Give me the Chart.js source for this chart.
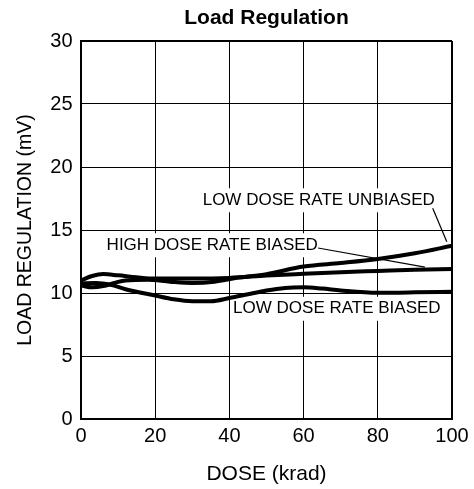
<!DOCTYPE html>
<html>
<head>
<meta charset="utf-8">
<script src="https://cdn.jsdelivr.net/npm/chart.js@4"></script>
<style>
  html, body { margin: 0; padding: 0; background: #fff; }
  #wrap { width: 474px; height: 489px; }
</style>
</head>
<body>
<div id="wrap"><canvas id="load-chart"></canvas></div>
<script>
const FONT = '"Liberation Sans", Arial, Helvetica, sans-serif';

// values (krad, mV)
const ldrUnbiasedDose = [0, 3, 6, 9, 12, 18, 24, 30, 36, 42, 50, 60, 70, 80, 90, 100];
const ldrUnbiasedLoad = [10.6, 10.45, 10.55, 10.8, 11.0, 11.05, 10.9, 10.8, 10.9, 11.2, 11.5, 12.1, 12.38, 12.7, 13.15, 13.75];

const hdrBiasedDose = [0, 3, 6, 10, 15, 20, 30, 40, 50, 60, 70, 80, 90, 100];
const hdrBiasedLoad = [11.0, 11.35, 11.5, 11.4, 11.25, 11.15, 11.15, 11.2, 11.38, 11.52, 11.65, 11.75, 11.85, 11.9];

const ldrBiasedDose = [0, 4, 8, 12, 20, 25, 30, 35, 40, 45, 50, 55, 60, 65, 70, 80, 90, 100];
const ldrBiasedLoad = [10.75, 10.8, 10.65, 10.3, 9.8, 9.5, 9.35, 9.35, 9.6, 9.9, 10.2, 10.4, 10.45, 10.35, 10.2, 10.02, 10.05, 10.1];

const xTicks = [0, 20, 40, 60, 80, 100];
const yTicks = [0, 5, 10, 15, 20, 25, 30];

// curve labels: text, where it sits (data units), leader line from / to
const curveLabels = [
  { text: 'LOW DOSE RATE UNBIASED', x: 32.8, y: 17.36, from: [94.8, 16.72], to: [98.6, 14.07] },
  { text: 'HIGH DOSE RATE BIASED', x: 6.9, y: 13.79, from: [63.9, 13.57], to: [92.7, 12.06] },
  { text: 'LOW DOSE RATE BIASED', x: 41.0, y: 8.75 }
];

function toPoints(xs, ys) {
  return xs.map((x, i) => ({ x: x, y: ys[i] }));
}

function curve(label, xs, ys) {
  return {
    label: label,
    data: toPoints(xs, ys),
    borderColor: '#000',
    borderWidth: 4,
    pointRadius: 0,
    fill: false,
    cubicInterpolationMode: 'monotone'
  };
}

const curveLabelPlugin = {
  id: 'curveLabels',
  beforeDatasetsDraw(chart) {
    const ctx = chart.ctx;
    const xs = chart.scales.x;
    const ys = chart.scales.y;
    ctx.save();
    ctx.font = '17px ' + FONT;
    ctx.textBaseline = 'middle';
    ctx.textAlign = 'left';
    curveLabels.forEach(l => {
      const px = xs.getPixelForValue(l.x);
      const py = ys.getPixelForValue(l.y);
      const w = ctx.measureText(l.text).width;
      ctx.fillStyle = '#fff';
      ctx.fillRect(px - 3, py - 12, w + 6, 24);
      ctx.fillStyle = '#000';
      ctx.fillText(l.text, px, py);
      if (l.from) {
        ctx.beginPath();
        ctx.lineWidth = 1.2;
        ctx.strokeStyle = '#000';
        ctx.moveTo(xs.getPixelForValue(l.from[0]), ys.getPixelForValue(l.from[1]));
        ctx.lineTo(xs.getPixelForValue(l.to[0]), ys.getPixelForValue(l.to[1]));
        ctx.stroke();
      }
    });
    ctx.restore();
  }
};

let loadChart = new Chart(document.getElementById('load-chart').getContext('2d'), {
  type: 'line',
  data: {
    datasets: [
      curve('LOW DOSE RATE UNBIASED', ldrUnbiasedDose, ldrUnbiasedLoad),
      curve('HIGH DOSE RATE BIASED', hdrBiasedDose, hdrBiasedLoad),
      curve('LOW DOSE RATE BIASED', ldrBiasedDose, ldrBiasedLoad)
    ]
  },
  options: {
    responsive: true,
    maintainAspectRatio: false,
    animation: false,
    layout: { padding: { left: 0, right: 22, top: 0, bottom: 0 } },
    plugins: {
      legend: { display: false },
      tooltip: { enabled: false },
      title: {
        display: true,
        fullSize: false,
        text: 'Load Regulation',
        color: '#000',
        font: { family: FONT, size: 21, weight: 'bold' },
        padding: { top: 6, bottom: 9.8 }
      }
    },
    scales: {
      x: {
        type: 'linear',
        min: 0,
        max: 100,
        afterBuildTicks: s => { s.ticks = xTicks.map(v => ({ value: v })); },
        afterFit: s => { s.height = 70; },
        grid: {
          color: '#000',
          lineWidth: c => (c.tick && c.tick.value === 100 ? 2 : 1),
          drawTicks: false
        },
        border: { color: '#000', width: 2 },
        ticks: { color: '#000', font: { family: FONT, size: 20 }, padding: 5, maxRotation: 0 },
        title: {
          display: true,
          text: 'DOSE (krad)',
          color: '#000',
          font: { family: FONT, size: 21 },
          padding: { top: 0, bottom: 2.4 }
        }
      },
      y: {
        min: 0,
        max: 30,
        afterBuildTicks: s => { s.ticks = yTicks.map(v => ({ value: v })); },
        afterFit: s => { s.width = 81; },
        grid: {
          color: '#000',
          lineWidth: c => (c.tick && c.tick.value === 30 ? 2 : 1),
          drawTicks: false
        },
        border: { color: '#000', width: 2 },
        ticks: { color: '#000', font: { family: FONT, size: 20 }, padding: 8.5 },
        title: {
          display: true,
          text: 'LOAD REGULATION (mV)',
          color: '#000',
          font: { family: FONT, size: 19.5 },
          padding: { top: 14, bottom: 0 }
        }
      }
    }
  },
  plugins: [curveLabelPlugin]
});
</script>
</body>
</html>
